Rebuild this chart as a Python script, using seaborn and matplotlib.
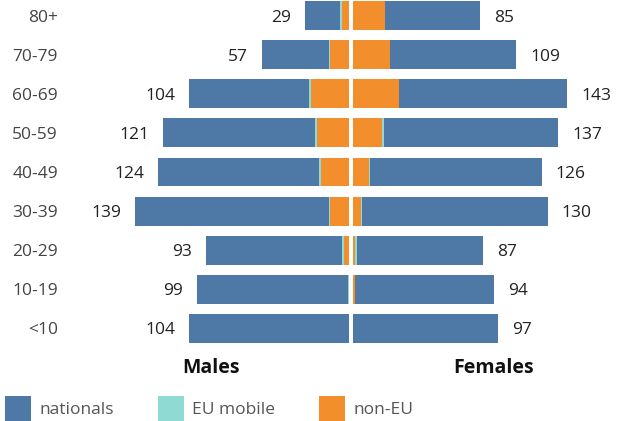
import matplotlib
matplotlib.use("Agg")
import matplotlib.pyplot as plt
from matplotlib.patches import Patch
import seaborn as sns

# Population by age group (thousands)
age_groups = ['80+', '70-79', '60-69', '50-59', '40-49', '30-39', '20-29', '10-19', '<10']

male_total = [29, 57, 104, 121, 124, 139, 93, 99, 104]
male_eu_mobile = [1.3, 0.6, 1.3, 1.3, 1.3, 0.5, 1.3, 1.0, 0.2]
male_non_eu = [4.8, 12.5, 24.9, 21.0, 18.4, 12.7, 3.4, 0.0, 0.0]

female_total = [85, 109, 143, 137, 126, 130, 87, 94, 97]
female_eu_mobile = [0.3, 0.2, 0.2, 1.3, 0.7, 0.7, 1.3, 0.0, 0.0]
female_non_eu = [21.4, 24.7, 30.7, 19.4, 10.7, 5.3, 1.3, 1.1, 0.0]

series_names = ['nationals', 'EU mobile', 'non-EU']
colors = {'nationals': '#4e79a7', 'EU mobile': '#8fdbd4', 'non-EU': '#f28e2b'}

sns.set_style("white")
plt.rcParams['font.family'] = ['Open Sans', 'DejaVu Sans']

W, H = 622, 421
fig = plt.figure(figsize=(W / 100, H / 100), dpi=100)

# axes placed in pixel terms so the pyramid halves meet with a small gap
ax_m = fig.add_axes([62 / W, 1 - 344 / H, (349.3 - 62) / W, 344 / H])
ax_f = fig.add_axes([353 / W, 1 - 344 / H, (W - 353) / W, 344 / H])


def draw_side(ax, total, eu, non_eu):
    # stacked from the centre outwards: non-EU, EU mobile, nationals
    eu_cum = [a + b for a, b in zip(eu, non_eu)]
    for vals, name in [(total, 'nationals'), (eu_cum, 'EU mobile'), (non_eu, 'non-EU')]:
        sns.barplot(x=vals, y=age_groups, order=age_groups, orient='h',
                    color=colors[name], saturation=1, width=0.74,
                    linewidth=0, ax=ax)


draw_side(ax_m, male_total, male_eu_mobile, male_non_eu)
draw_side(ax_f, female_total, female_eu_mobile, female_non_eu)

ax_m.set_xlim(186.6, 0)
ax_f.set_xlim(0, 179.7)

for ax in (ax_m, ax_f):
    ax.set_ylim(8.4, -0.4)
    ax.set_xlabel('')
    ax.set_ylabel('')
    ax.set_xticks([])
    sns.despine(ax=ax, left=True, bottom=True)
    ax.set_facecolor('none')

ax_m.tick_params(axis='y', length=0, pad=3, labelsize=12.5, labelcolor='#444444')
ax_f.tick_params(axis='y', length=0, labelleft=False)
for lbl in ax_m.get_yticklabels():
    lbl.set_verticalalignment('center_baseline')

for i, v in enumerate(male_total):
    ax_m.annotate(str(v), xy=(v, i), xytext=(-14, 0), textcoords='offset pixels',
                  ha='right', va='center_baseline', fontsize=12.5, color='#222222')
for i, v in enumerate(female_total):
    ax_f.annotate(str(v), xy=(v, i), xytext=(14, 0), textcoords='offset pixels',
                  ha='left', va='center_baseline', fontsize=12.5, color='#222222')

fig.text(211 / W, 1 - 368 / H, 'Males', ha='center', va='center',
         fontsize=14, fontweight='bold', color='#111111')
fig.text(494 / W, 1 - 368 / H, 'Females', ha='center', va='center',
         fontsize=14, fontweight='bold', color='#111111')

handles = [Patch(facecolor=colors[n], edgecolor='none') for n in series_names]
leg = fig.legend(handles, series_names, loc='lower left', bbox_to_anchor=(5 / W, 0),
                 ncol=3, frameon=False, fontsize=12.5, handlelength=1.5,
                 handleheight=1.85, handletextpad=0.5, columnspacing=2.5,
                 borderpad=0, borderaxespad=0)
for t in leg.get_texts():
    t.set_color('#555555')

fig.savefig('out.png', dpi=100)
plt.close(fig)
